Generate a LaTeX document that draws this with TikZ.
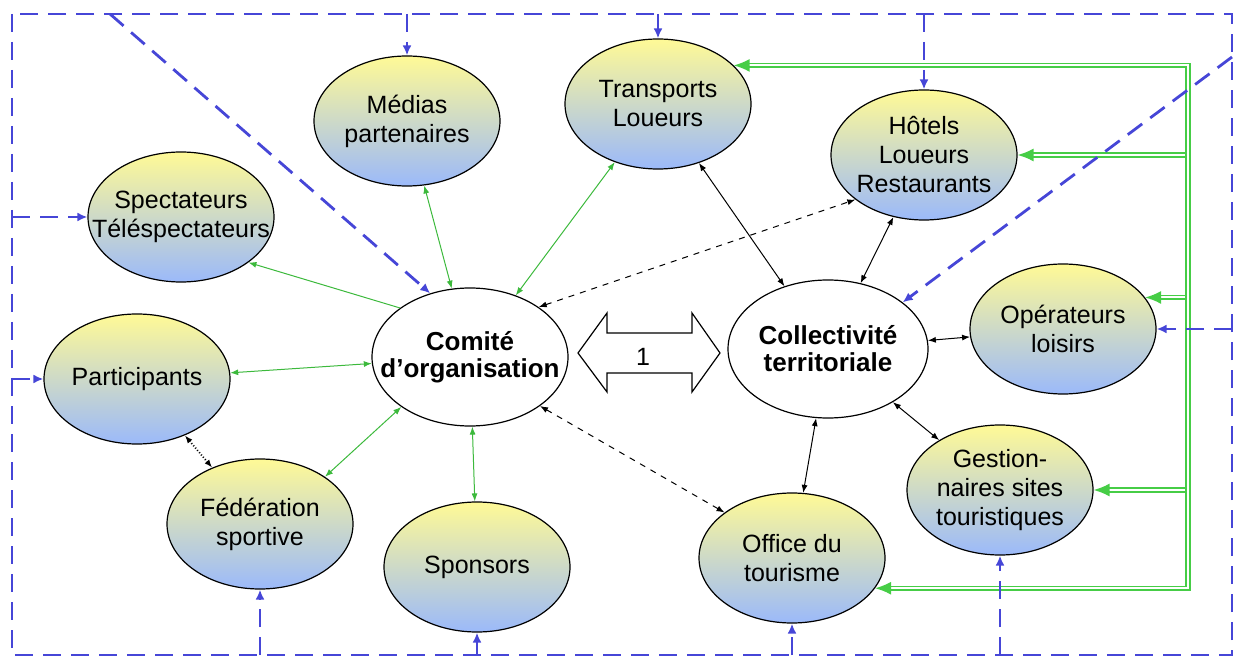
\documentclass[tikz,border=0pt]{standalone}
\usepackage{fontspec}
\setmainfont{Liberation Sans}
\usepackage{tikz}
\usetikzlibrary{shapes.geometric,arrows.meta}
\definecolor{feedblue}{RGB}{70,70,215}
\definecolor{linkgreen}{RGB}{60,185,60}
\definecolor{busgreen}{RGB}{70,205,70}
\definecolor{topyellow}{RGB}{255,250,150}
\definecolor{botblue}{RGB}{155,185,250}

\begin{document}
\begin{tikzpicture}[x=0.5pt,y=-0.5pt,
  >={Latex[length=4pt,width=3pt]},
  actor/.style={ellipse,draw,line width=0.6pt,top color=topyellow,
    bottom color=botblue,minimum width=93pt,minimum height=65pt,
    inner xsep=-20pt,inner ysep=0pt,align=center,
    font=\fontsize{12.5}{14.5}\selectfont},
  pole/.style={ellipse,draw,line width=0.6pt,fill=white,
    minimum width=98pt,minimum height=69pt,inner xsep=-20pt,inner ysep=0pt,
    align=center,font=\bfseries\fontsize{13}{13.5}\selectfont},
  feed/.style={draw=feedblue,line width=1.4pt,dash pattern=on 9pt off 5pt},
  tip/.style={-{Latex[length=5pt,width=4.5pt]}},
  green/.style={draw=linkgreen,line width=0.5pt},
  tie/.style={draw=black,line width=0.5pt},
  bus/.style={draw=busgreen,line width=0.8pt,double=white,double distance=1pt},
  bustip/.style={-{Latex[length=8pt,width=6.5pt]}}]
\useasboundingbox (0,0) rectangle (1241,657);

\coordinate (fTL) at (12,14);
\coordinate (fBR) at (1232,655);
\coordinate (dTL) at (110,14);
\coordinate (dTR) at (1232,57);
\coordinate (bus) at (1188,65);

\node[pole] (comite) at (470,357) {Comité\\d’organisation};
\node[pole,minimum width=100pt] (collec) at (828,349) {Collectivité\\territoriale};

\node[actor] (medias) at (407,121) {Médias\\partenaires};
\node[actor] (transp) at (658,104) {Transports\\Loueurs};
\node[actor] (hotels) at (924,155) {Hôtels\\Loueurs\\Restaurants};
\node[actor] (spect)  at (181,217) {Spectateurs\\Téléspectateurs};
\node[actor] (partic) at (137,379) {Participants};
\node[actor] (feder)  at (260,524) {Fédération\\sportive};
\node[actor] (spons)  at (477,567) {Sponsors};
\node[actor] (office) at (792,558) {Office du\\tourisme};
\node[actor] (gest)   at (1000,490) {Gestion-\\naires sites\\touristiques};
\node[actor] (oper)   at (1063,329) {Opérateurs\\loisirs};

% the double arrow between the two poles
\draw[line width=0.6pt] (578,353) -- (607,313) -- (607,333) -- (692,333)
  -- (692,313) -- (720,353) -- (692,392) -- (692,373) -- (607,373)
  -- (607,392) -- cycle;
\node[font=\fontsize{12.5}{14.5}\selectfont] (one) at (643,357) {1};

\draw[green,<->] (comite) -- (medias);
\draw[green,<->] (comite) -- (transp);
\draw[green,<->] (comite) -- (partic);
\draw[green,<->] (comite.216) -- (feder.36);
\draw[green,<->] (comite) -- (spons);
\draw[green,->] (comite.145) -- (spect.-34);

\draw[tie,<->] (collec) -- (transp);
\draw[tie,<->] (collec) -- (hotels);
\draw[tie,<->] (collec) -- (oper);
\draw[tie,<->] (collec) -- (gest);
\draw[tie,<->] (collec) -- (office);
\draw[tie,dashed,<->] (comite.36) -- (hotels.213);
\draw[tie,dashed,<->] (comite.-35) -- (office.146);
\draw[tie,densely dotted,line width=0.9pt,<->] (partic) -- (feder);

\draw[bus,bustip] (hotels.east -| bus) -- (hotels.east);
\draw[bus,bustip] (oper.21 -| bus) -- (oper.21);
\draw[bus,bustip] (gest.east -| bus) -- (gest.east);
\draw[bus,{Latex[length=8pt,width=6.5pt]}-{Latex[length=8pt,width=6.5pt]}]
  (transp.27) -- (transp.27 -| bus) -- (office.-20 -| bus) -- (office.-20);

\draw[feed] (fTL) rectangle (fBR);
\draw[feed,tip] (medias.north |- fTL) -- (medias.north);
\draw[feed,tip] (transp.north |- fTL) -- (transp.north);
\draw[feed,tip] (hotels.north |- fTL) -- (hotels.north);
\draw[feed,tip] (spect.west -| fTL) -- (spect.west);
\draw[feed,tip] (partic.west -| fTL) -- (partic.west);
\draw[feed,tip] (feder.south |- fBR) -- (feder.south);
\draw[feed,tip] (spons.south |- fBR) -- (spons.south);
\draw[feed,tip] (office.south |- fBR) -- (office.south);
\draw[feed,tip] (gest.south |- fBR) -- (gest.south);
\draw[feed,tip] (oper.east -| fBR) -- (oper.east);
\draw[feed,tip] (dTL) -- (comite.122);
\draw[feed,tip] (dTR) -- (collec.32);

\end{tikzpicture}
\end{document}
